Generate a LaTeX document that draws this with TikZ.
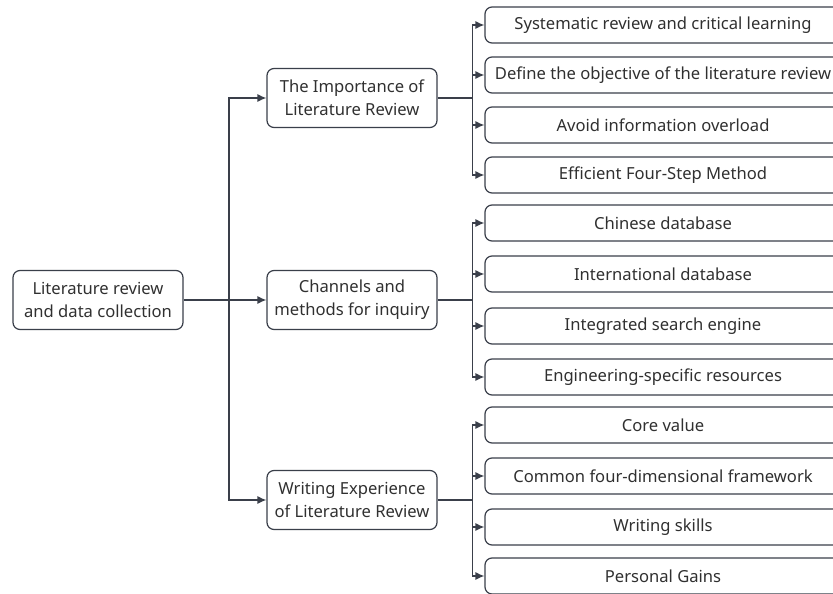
\documentclass[tikz,border=0pt]{standalone}
\usepackage{fontspec}
\setmainfont{Noto Sans}
\usetikzlibrary{arrows.meta}
\definecolor{edge}{HTML}{3A3F4A}
\definecolor{txt}{HTML}{303030}
\tikzset{
  box/.style={draw=edge, line width=1.2pt, rounded corners=7pt, fill=white, text=txt,
    font=\fontsize{16.6}{23}\selectfont, align=center, inner sep=0pt},
  mainbox/.style={box, minimum width=170pt, minimum height=59pt},
  leafbox/.style={box, minimum width=356pt, minimum height=36pt},
  conn/.style={draw=edge, line width=1.2pt},
  arr/.style={conn, -{Latex[length=9pt,width=8pt]}}
}
\begin{document}
\begin{tikzpicture}[x=1pt,y=-1pt]
\useasboundingbox (0,0) rectangle (833,594);
\clip (0,0) rectangle (833,594);
% root and level 2
\node[mainbox] (root) at (98,300) {Literature review\\and data collection};
\node[mainbox] (imp) at (352,98) {The Importance of\\Literature Review};
\node[mainbox] (chan) at (352,300) {Channels and\\methods for inquiry};
\node[mainbox] (writ) at (352,500) {Writing Experience\\of Literature Review};
% leaves
\node[leafbox] (a1) at (663,25) {Systematic review and critical learning};
\node[leafbox] (a2) at (663,75) {Define the objective of the literature review};
\node[leafbox] (a3) at (663,125) {Avoid information overload};
\node[leafbox] (a4) at (663,175) {Efficient Four-Step Method};
\node[leafbox] (b1) at (663,223) {Chinese database};
\node[leafbox] (b2) at (663,274) {International database};
\node[leafbox] (b3) at (663,326) {Integrated search engine};
\node[leafbox] (b4) at (663,377) {Engineering-specific resources};
\node[leafbox] (c1) at (663,425) {Core value};
\node[leafbox] (c2) at (663,476) {Common four-dimensional framework};
\node[leafbox] (c3) at (663,527) {Writing skills};
\node[leafbox] (c4) at (663,576) {Personal Gains};
% trunk
\coordinate (t) at (229,300);
\draw[conn] (root.east) -- (t);
\draw[arr] (t) -- (chan.west);
\draw[arr] (t) |- (imp.west);
\draw[arr] (t) |- (writ.west);
% branches
\foreach \p/\l in {imp/a, chan/b, writ/c}{
  \coordinate (\l j) at ([xshift=35pt]\p.east);
  \draw[conn] (\p.east) -- (\l j);
  \foreach \i in {1,...,4}{
    \draw[arr] (\l j) |- (\l\i.west);
  }
}
\end{tikzpicture}
\end{document}
